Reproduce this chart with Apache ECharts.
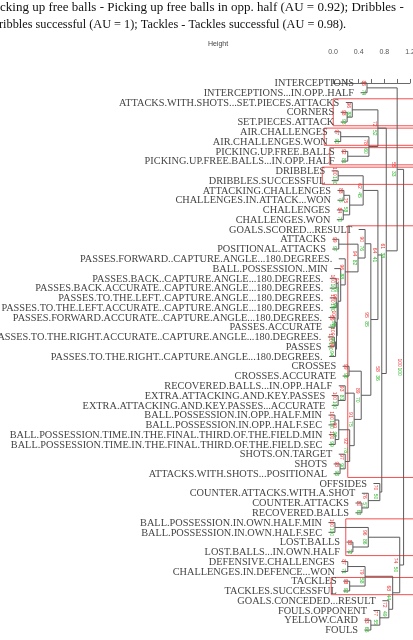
<!DOCTYPE html>
<html><head><meta charset="utf-8">
<script src="https://cdn.jsdelivr.net/npm/echarts@6/dist/echarts.min.js"></script>
<style>html,body{margin:0;padding:0;background:#fff}#c{width:413px;height:640px}</style>
</head><body><div id="c"></div>
<script>
const captionLines = [
  "cking up free balls - Picking up free balls in opp. half (AU = 0.92); Dribbles -",
  "ribbles successful (AU = 1); Tackles - Tackles successful (AU = 0.98)."
];
const axisTitle = "Height";
const tickLabels = ["0.0", "0.4", "0.8", "1.2"];
const leafLabels = [
"INTERCEPTIONS","INTERCEPTIONS...IN.OPP..HALF","ATTACKS.WITH.SHOTS...SET.PIECES.ATTACKS","CORNERS","SET.PIECES.ATTACK",
"AIR.CHALLENGES","AIR.CHALLENGES.WON","PICKING.UP.FREE.BALLS","PICKING.UP.FREE.BALLS...IN.OPP..HALF","DRIBBLES",
"DRIBBLES.SUCCESSFUL","ATTACKING.CHALLENGES","CHALLENGES.IN.ATTACK...WON","CHALLENGES","CHALLENGES.WON",
"GOALS.SCORED...RESULT","ATTACKS","POSITIONAL.ATTACKS","PASSES.FORWARD..CAPTURE.ANGLE...180.DEGREES.","BALL.POSSESSION..MIN",
"PASSES.BACK..CAPTURE.ANGLE...180.DEGREES.","PASSES.BACK.ACCURATE..CAPTURE.ANGLE...180.DEGREES.","PASSES.TO.THE.LEFT..CAPTURE.ANGLE...180.DEGREES.","PASSES.TO.THE.LEFT.ACCURATE..CAPTURE.ANGLE...180.DEGREES.","PASSES.FORWARD.ACCURATE..CAPTURE.ANGLE...180.DEGREES.",
"PASSES.ACCURATE","PASSES.TO.THE.RIGHT.ACCURATE..CAPTURE.ANGLE...180.DEGREES.","PASSES","PASSES.TO.THE.RIGHT..CAPTURE.ANGLE...180.DEGREES.","CROSSES",
"CROSSES.ACCURATE","RECOVERED.BALLS...IN.OPP..HALF","EXTRA.ATTACKING.AND.KEY.PASSES","EXTRA.ATTACKING.AND.KEY.PASSES...ACCURATE","BALL.POSSESSION.IN.OPP..HALF.MIN",
"BALL.POSSESSION.IN.OPP..HALF.SEC","BALL.POSSESSION.TIME.IN.THE.FINAL.THIRD.OF.THE.FIELD.MIN","BALL.POSSESSION.TIME.IN.THE.FINAL.THIRD.OF.THE.FIELD.SEC","SHOTS.ON.TARGET","SHOTS",
"ATTACKS.WITH.SHOTS...POSITIONAL","OFFSIDES","COUNTER.ATTACKS.WITH.A.SHOT","COUNTER.ATTACKS","RECOVERED.BALLS",
"BALL.POSSESSION.IN.OWN.HALF.MIN","BALL.POSSESSION.IN.OWN.HALF.SEC","LOST.BALLS","LOST.BALLS...IN.OWN.HALF","DEFENSIVE.CHALLENGES",
"CHALLENGES.IN.DEFENCE...WON","TACKLES","TACKLES.SUCCESSFUL","GOALS.CONCEDED...RESULT","FOULS.OPPONENT",
"YELLOW.CARD","FOULS"
];
// hclust-style merges: negative = leaf -(index+1), positive = earlier merge row (1-based)
const mergeA = [-4,-3,-6,-8,3,2,-1,-10,-12,-14,9,8,-17,-21,-23,-25,-27,17,16,15,14,-20,-19,13,-16,-30,-33,-32,-35,-37,29,-40,-39,31,28,26,25,12,-44,-43,-42,38,6,7,-46,-48,45,-50,-52,48,-56,-55,-54,50,47,44];
const mergeB = [-5,1,-7,-9,4,5,-2,-11,-13,-15,10,11,-18,-22,-24,-26,-28,-29,18,19,20,21,22,23,24,-31,-34,27,-36,-38,30,-41,32,33,34,35,36,37,-45,39,40,41,42,43,-47,-49,46,-51,-53,49,-57,51,52,53,54,55];
const mergeHeight = [0.22,0.30,0.12,0.23,0.56,0.70,0.53,0.08,0.17,0.16,0.26,0.47,0.09,0.05,0.05,0.03,0.02,0.04,0.055,0.065,0.08,0.12,0.19,0.39,0.50,0.25,0.08,0.19,0.03,0.035,0.09,0.11,0.19,0.26,0.33,0.44,0.59,0.70,0.45,0.55,0.73,0.76,0.83,1.00,0.03,0.31,0.55,0.23,0.26,0.50,0.59,0.73,0.87,0.93,1.04,1.10];
const auValues = [98,96,97,92,78,72,86,100,88,84,75,62,99,100,100,99,100,98,100,100,99,97,96,94,90,99,100,93,100,100,99,98,97,92,91,89,95,64,80,76,70,58,61,55,100,88,96,87,98,79,83,77,72,68,74,100];
const bpValues = [93,88,90,81,60,52,74,100,75,70,58,45,97,100,100,97,100,94,99,98,96,90,88,82,76,96,100,81,100,99,96,93,90,78,75,70,85,41,63,57,50,36,38,33,100,72,86,71,92,58,66,55,49,44,50,100];
const highlightMerges = [2,3,4,8,37,47,49];

const HANG = 0.1;
const n = mergeHeight.length;
const nodeY = new Array(n);
const leafParentH = new Array(leafLabels.length);
function yOf(r){ return r < 0 ? (-r - 1) : nodeY[r - 1]; }
for (let i = 0; i < n; i++) {
  nodeY[i] = (yOf(mergeA[i]) + yOf(mergeB[i])) / 2;
  [mergeA[i], mergeB[i]].forEach(r => { if (r < 0) leafParentH[-r - 1] = mergeHeight[i]; });
}
function xOf(r){ return r < 0 ? leafParentH[-r - 1] - HANG : mergeHeight[r - 1]; }
function span(r){
  if (r < 0) return [-r - 1, -r - 1];
  const a = span(mergeA[r - 1]), b = span(mergeB[r - 1]);
  return [Math.min(a[0], b[0]), Math.max(a[1], b[1])];
}
const LINE = '#5a5a5a';
const chart = echarts.init(document.getElementById('c'), null, {renderer: 'canvas'});
const option = {
  animation: false,
  grid: {left: 333, right: 3, top: 61, bottom: 0, containLabel: false, outerBoundsMode: 'none'},
  xAxis: {
    type: 'value', position: 'top', min: 0, max: 1.2, interval: 0.2,
    axisLine: {show: true, lineStyle: {color: '#444', width: 0.8}},
    axisTick: {show: true, length: 4, lineStyle: {color: '#444', width: 0.8}},
    axisLabel: {show: true, margin: 5, fontSize: 7, color: '#555', fontFamily: 'Liberation Sans',
      showMinLabel: true, showMaxLabel: true, hideOverlap: false,
      formatter: v => tickLabels.indexOf(v.toFixed(1)) >= 0 ? v.toFixed(1) : ''},
    splitLine: {show: false}
  },
  yAxis: {type: 'value', inverse: true, min: -2.25, max: 57.02, show: false},
  graphic: [
    {type: 'text', x: 0, y: 8, style: {text: captionLines[0], font: '13px "Liberation Serif"', fill: '#111', textVerticalAlign: 'middle', verticalAlign: 'middle'}},
    {type: 'text', x: -1, y: 25, style: {text: captionLines[1], font: '12.3px "Liberation Serif"', fill: '#111', textVerticalAlign: 'middle', verticalAlign: 'middle'}},
    {type: 'text', x: 218, y: 44, style: {text: axisTitle, font: '7px "Liberation Sans"', fill: '#444', textAlign: 'center', align: 'center', textVerticalAlign: 'middle', verticalAlign: 'middle'}}
  ],
  series: [
    {
      type: 'custom', coordinateSystem: 'cartesian2d', clip: false, z: 1,
      data: highlightMerges.map(r => [mergeHeight[r - 1], r]),
      renderItem: function (params, api) {
        const r = highlightMerges[params.dataIndex];
        const s = span(r);
        const h = mergeHeight[r - 1];
        const p1 = api.coord([-0.23 + 0.78 * h, s[0] - 0.38]);
        const p2 = api.coord([h, s[1] + 0.38]);
        const w = api.getWidth() + 5 - p1[0];
        return {type: 'rect', shape: {x: p1[0], y: p1[1], width: w, height: p2[1] - p1[1]},
          style: {fill: null, stroke: '#f23c3c', lineWidth: 0.9}};
      }
    },
    {
      type: 'custom', coordinateSystem: 'cartesian2d', clip: false, z: 2,
      data: mergeHeight.map((h, i) => [h, nodeY[i]]),
      renderItem: function (params, api) {
        const i = params.dataIndex;
        const h = mergeHeight[i];
        const a = mergeA[i], b = mergeB[i];
        const pts = [
          api.coord([xOf(a), yOf(a)]), api.coord([h, yOf(a)]),
          api.coord([h, yOf(b)]), api.coord([xOf(b), yOf(b)])
        ];
        return {type: 'polyline', shape: {points: pts}, style: {fill: null, stroke: LINE, lineWidth: 1}};
      }
    },
    {
      type: 'custom', coordinateSystem: 'cartesian2d', clip: false, z: 3,
      data: leafLabels.map((l, i) => [leafParentH[i] - HANG, i]),
      renderItem: function (params, api) {
        const i = params.dataIndex;
        const p = api.coord([leafParentH[i] - HANG, i]);
        return {type: 'text', x: p[0] - 6.5, y: p[1] + 0.5,
          style: {text: leafLabels[i], font: '10.3px "Liberation Serif"', fill: '#444',
            textAlign: 'right', align: 'right', textVerticalAlign: 'middle', verticalAlign: 'middle'}};
      }
    },
    {
      type: 'custom', coordinateSystem: 'cartesian2d', clip: false, z: 4,
      data: mergeHeight.map((h, i) => [h, nodeY[i]]),
      renderItem: function (params, api) {
        const i = params.dataIndex;
        const p = api.coord([mergeHeight[i], nodeY[i]]);
        return {type: 'group', children: [
          {type: 'text', x: p[0] - 4, y: p[1] - 4.5, rotation: -Math.PI / 2,
            style: {text: String(auValues[i]), font: '5px "Liberation Sans"', fill: '#ee3333',
              textAlign: 'center', align: 'center', textVerticalAlign: 'middle', verticalAlign: 'middle'}},
          {type: 'text', x: p[0] - 4, y: p[1] + 4.5, rotation: -Math.PI / 2,
            style: {text: String(bpValues[i]), font: '5px "Liberation Sans"', fill: '#2db82d',
              textAlign: 'center', align: 'center', textVerticalAlign: 'middle', verticalAlign: 'middle'}}
        ]};
      }
    }
  ]
};
chart.setOption(option);
</script></body></html>
